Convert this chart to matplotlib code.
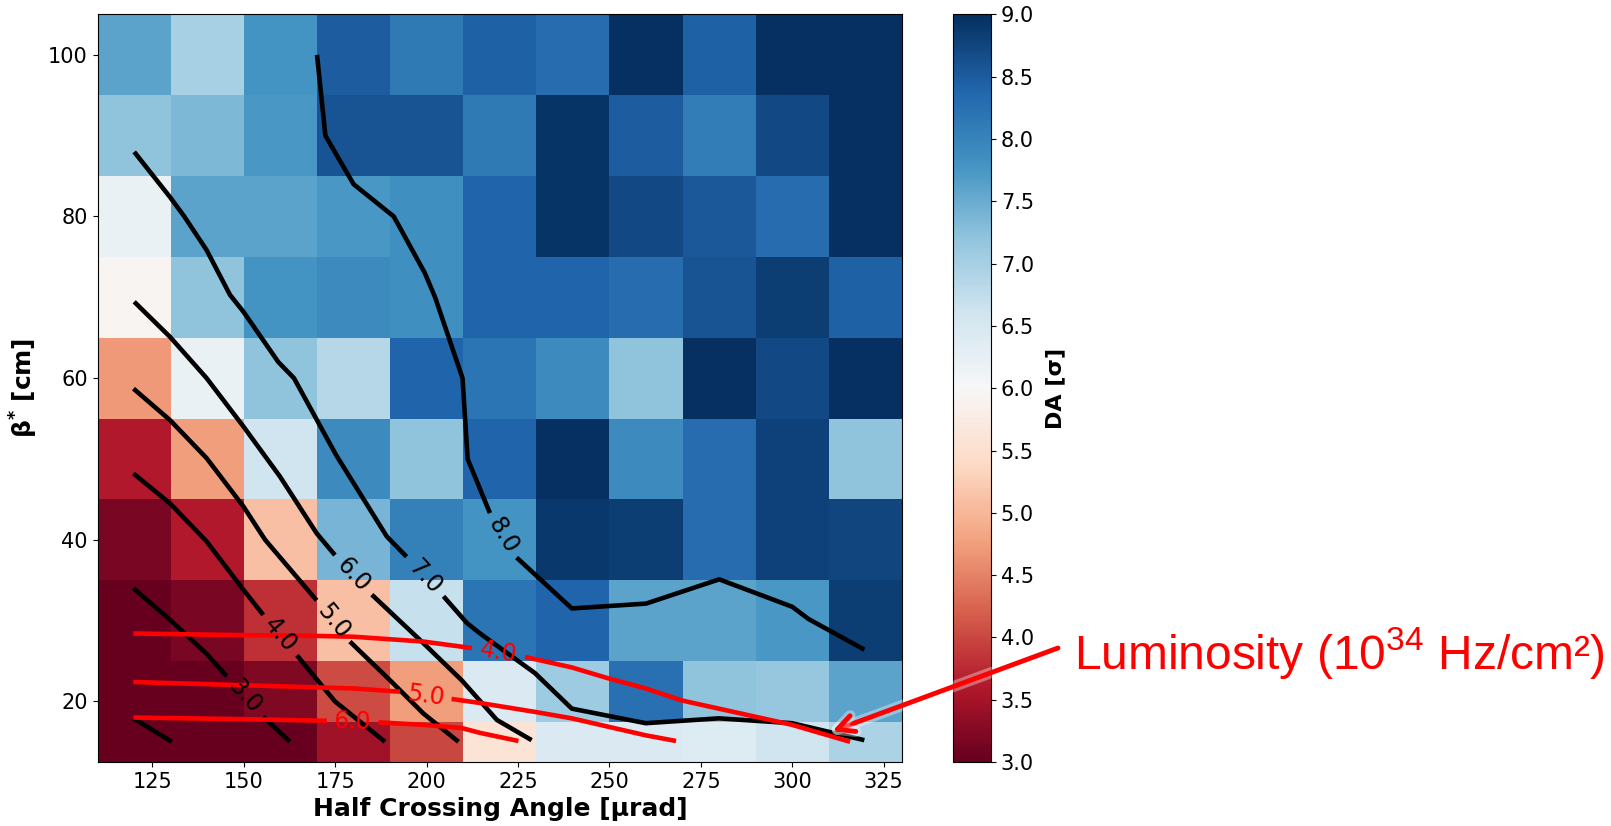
import numpy as np
import matplotlib
matplotlib.use("Agg")
import matplotlib.pyplot as plt
import matplotlib.patheffects as pe

plt.rcParams["mathtext.default"] = "regular"

# Scan grid: half crossing angle [urad] and beta* [cm]
half_angle = [120, 140, 160, 180, 200, 220, 240, 260, 280, 300, 320]
beta_star = [15, 20, 30, 40, 50, 60, 70, 80, 90, 100]

# Dynamic aperture [sigma], one row per beta*
da_b15 = [3.00, 3.00, 3.00, 3.45, 4.00, 5.60, 6.45, 6.45, 6.40, 6.60, 6.95]
da_b20 = [3.00, 3.00, 3.20, 4.05, 4.75, 6.45, 7.10, 8.25, 7.20, 7.15, 7.60]
da_b30 = [3.00, 3.15, 3.80, 5.10, 6.70, 8.20, 8.40, 7.60, 7.60, 7.75, 8.85]
da_b40 = [3.15, 3.60, 5.10, 7.40, 8.05, 7.80, 8.90, 8.85, 8.30, 8.80, 8.75]
da_b50 = [3.60, 4.75, 6.60, 7.90, 7.20, 8.40, 9.00, 7.90, 8.30, 8.80, 7.20]
da_b60 = [4.70, 6.20, 7.20, 6.85, 8.40, 8.20, 7.90, 7.20, 9.00, 8.70, 9.00]
da_b70 = [5.95, 7.20, 7.80, 7.90, 7.85, 8.40, 8.40, 8.30, 8.60, 8.85, 8.45]
da_b80 = [6.20, 7.60, 7.60, 7.75, 7.85, 8.40, 8.95, 8.70, 8.55, 8.30, 9.00]
da_b90 = [7.20, 7.35, 7.75, 8.60, 8.60, 8.15, 8.95, 8.50, 8.10, 8.70, 9.00]
da_b100 = [7.60, 7.00, 7.80, 8.50, 8.15, 8.45, 8.30, 9.00, 8.45, 9.00, 9.00]

# DA iso-lines (NaN = gap for the inline label)
da_levels = ["3.0", "4.0", "5.0", "6.0", "7.0", "8.0"]
da3_x = [119.8, 129.8, 139.8, 145.3, np.nan, 155.3, 162.6]
da3_y = [34.0, 30.1, 25.9, 23.1, np.nan, 18.1, 15.0]
da3_corner_x = [119.8, 130.3]
da3_corner_y = [17.9, 15.0]
da4_x = [119.8, 129.8, 139.8, 149.9, 155.3, np.nan, 164.5, 174.9, 188.6]
da4_y = [48.2, 44.5, 39.8, 33.8, 30.7, np.nan, 25.7, 20.0, 15.0]
da5_x = [119.8, 129.8, 139.8, 149.9, 155.8, 169.9, np.nan, 179.0, 190.0, 199.1, 208.7]
da5_y = [58.7, 54.8, 50.1, 44.1, 40.0, 32.5, np.nan, 27.4, 22.6, 18.5, 15.0]
da6_x = [120.0, 129.8, 139.8, 149.9, 159.9, 169.9, 174.9, np.nan,
         185.0, 199.1, 209.6, 219.2, 228.7]
da6_y = [69.45, 65.1, 60.0, 54.0, 47.8, 40.8, 38.1, np.nan,
         33.2, 27.2, 22.6, 17.7, 15.2]
da7_x = [120.0, 129.8, 133.7, 139.8, 146.2, 149.9, 159.4, 163.7, 175.2, 189.1, 194.5,
         np.nan, 204.6, 211.0, 214.6, 229.6, 239.7, 259.9, 279.9, 299.9, 319.7]
da7_y = [88.0, 82.4, 80.0, 75.85, 70.3, 68.2, 62.0, 60.0, 50.5, 40.4, 37.9,
         np.nan, 33.0, 29.7, 28.4, 23.5, 19.1, 17.3, 17.9, 17.3, 15.2]
da8_x = [170.0, 172.3, 180.0, 191.0, 199.5, 202.3, 209.8, 211.2, 217.3, np.nan,
         224.6, 239.7, 260.0, 280.0, 300.0, 304.4, 319.7]
da8_y = [100.0, 90.0, 84.0, 80.0, 73.0, 70.0, 60.0, 50.0, 43.3, np.nan,
         37.8, 31.5, 32.1, 35.1, 31.7, 30.2, 26.4]

# Luminosity iso-lines [1e34 Hz/cm^2]
lumi_levels = ["4.0", "5.0", "6.0"]
lumi4_x = [119.8, 149.9, 169.9, 180.0, 199.1, 212.3, np.nan,
           226.9, 239.7, 249.3, 259.9, 269.9, 279.9, 299.9, 315.8]
lumi4_y = [28.4, 28.2, 28.1, 28.0, 27.4, 26.6, np.nan,
           25.5, 24.2, 22.9, 21.6, 20.1, 19.1, 17.1, 15.0]
lumi5_x = [119.8, 149.9, 180.0, 192.7, np.nan, 206.8, 214.6, 229.6, 239.7, 259.9, 268.2]
lumi5_y = [22.4, 22.0, 21.6, 21.2, np.nan, 20.3, 19.8, 18.7, 17.9, 15.8, 15.1]
lumi6_x = [119.8, 149.9, 172.7, np.nan, 186.8, 199.1, 209.6, 214.6, 225.1]
lumi6_y = [18.0, 17.8, 17.6, np.nan, 17.4, 17.1, 16.7, 16.1, 15.1]

cbar_ticks = [3.0, 3.5, 4.0, 4.5, 5.0, 5.5, 6.0, 6.5, 7.0, 7.5, 8.0, 8.5, 9.0]
x_ticks = [125, 150, 175, 200, 225, 250, 275, 300, 325]
y_ticks = [20, 40, 60, 80, 100]

da = np.array([da_b15, da_b20, da_b30, da_b40, da_b50,
               da_b60, da_b70, da_b80, da_b90, da_b100])

fig = plt.figure(figsize=(16.11, 8.26), dpi=100)
ax = fig.add_axes([0.0606, 0.0775, 0.4993, 0.905])
cax = fig.add_axes([0.5916, 0.0775, 0.0236, 0.905])
ax.set_zorder(2)
cax.set_zorder(1)

mesh = ax.pcolormesh(half_angle, beta_star, da, cmap="RdBu", vmin=3, vmax=9,
                     shading="nearest")
ax.set_xlim(110, 330)
ax.set_ylim(12.5, 105)


def draw_iso(xs, ys, text, color):
    xs = np.asarray(xs, float)
    ys = np.asarray(ys, float)
    ax.plot(xs, ys, color=color, lw=3.3, solid_capstyle="butt", zorder=3)
    i = int(np.where(np.isnan(xs))[0][0])
    p0 = np.array([xs[i - 1], ys[i - 1]])
    p1 = np.array([xs[i + 1], ys[i + 1]])
    d0 = ax.transData.transform(p0)
    d1 = ax.transData.transform(p1)
    ang = np.degrees(np.arctan2(d1[1] - d0[1], d1[0] - d0[0]))
    mid = (p0 + p1) / 2
    ax.text(mid[0], mid[1], text, rotation=ang, rotation_mode="anchor",
            ha="center", va="center", fontsize=17, color=color, zorder=4)


for (xs, ys), lab in zip([(da3_x, da3_y), (da4_x, da4_y), (da5_x, da5_y),
                          (da6_x, da6_y), (da7_x, da7_y), (da8_x, da8_y)], da_levels):
    draw_iso(xs, ys, lab, "black")
ax.plot(da3_corner_x, da3_corner_y, color="black", lw=3.3,
        solid_capstyle="butt", zorder=3)

for (xs, ys), lab in zip([(lumi4_x, lumi4_y), (lumi5_x, lumi5_y),
                          (lumi6_x, lumi6_y)], lumi_levels):
    draw_iso(xs, ys, lab, "red")

ax.set_xticks(x_ticks)
ax.set_yticks(y_ticks)
ax.tick_params(labelsize=15)
ax.set_xlabel("Half Crossing Angle [μrad]", fontsize=18, fontweight="bold", labelpad=4)
ax.set_ylabel(r"β$^{*}$ [cm]", fontsize=18, fontweight="bold", labelpad=6)

cb = fig.colorbar(mesh, cax=cax, ticks=cbar_ticks)
cb.ax.set_yticklabels([f"{t:.1f}" for t in cbar_ticks])
cb.ax.tick_params(labelsize=15)
cb.set_label("DA [σ]", fontsize=16, fontweight="bold", labelpad=8)

# Pointer to the luminosity lines
ann = ax.annotate("", xy=(310.9, 16.3), xycoords="data",
                  xytext=(1058, 826 - 648), textcoords="figure pixels",
                  arrowprops=dict(arrowstyle="->", color="red", lw=3.5,
                                  mutation_scale=30, shrinkA=0, shrinkB=0),
                  annotation_clip=False, zorder=6)
ann.arrow_patch.set_path_effects([pe.Stroke(linewidth=8, foreground="white", alpha=0.35),
                                  pe.Normal()])

fig.text(1074 / 1611, 157 / 826, "Luminosity (10$^{34}$ Hz/cm²)", color="red",
         fontsize=34.5, family="Liberation Sans", ha="left", va="baseline")

fig.savefig("out.png", dpi=100)
